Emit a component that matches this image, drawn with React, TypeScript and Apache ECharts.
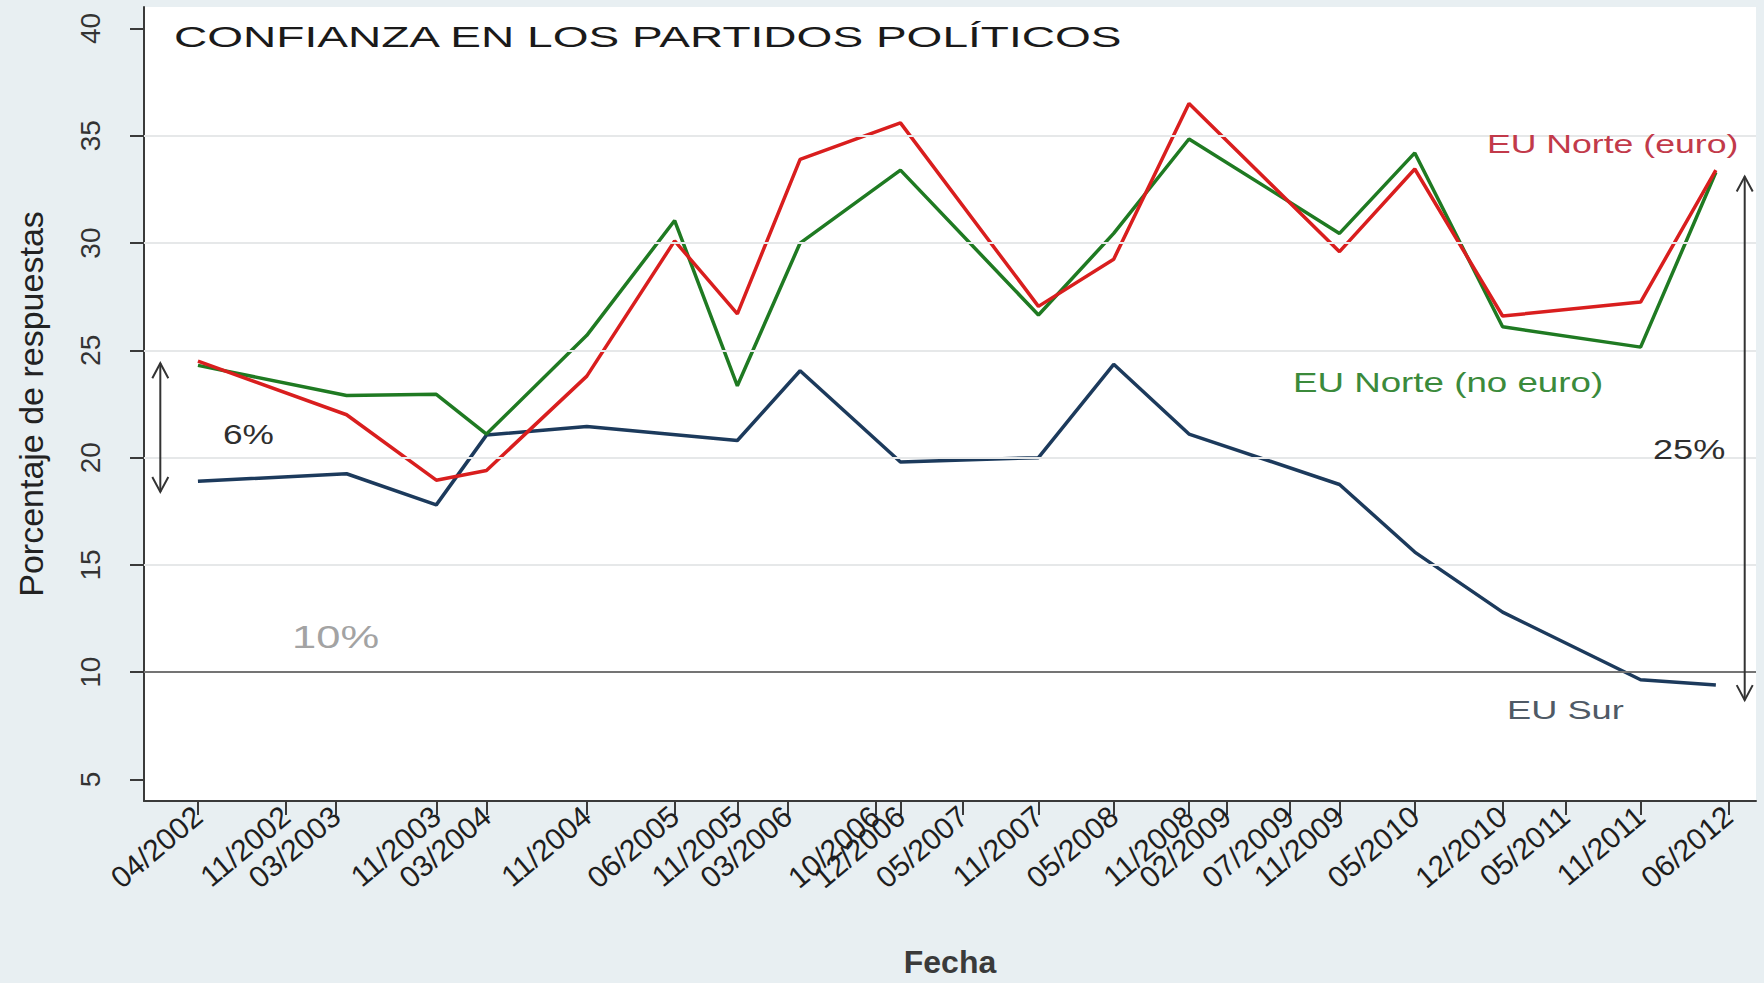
import React, { useEffect, useRef } from 'react';
import * as echarts from 'echarts';

// Survey dates shown on the x axis
const tickLabels = [
  '04/2002', '11/2002', '03/2003', '11/2003', '03/2004', '11/2004', '06/2005',
  '11/2005', '03/2006', '10/2006', '12/2006', '05/2007', '11/2007', '05/2008',
  '11/2008', '02/2009', '07/2009', '11/2009', '05/2010', '12/2010', '05/2011',
  '11/2011', '06/2012',
];

// x positions of the drawn points, in months since 01/2002
const norteMonths = [3, 14.85, 22, 26, 34, 41, 46, 51, 59, 70, 76, 82, 94, 100, 107, 118, 124];
const norteEuro = [24.5, 22.0, 18.95, 19.4, 23.8, 30.1, 26.7, 33.9, 35.6, 27.05, 29.25, 36.5, 29.6, 33.45, 26.6, 27.25, 33.4];
const norteNoEuro = [24.3, 22.9, 22.95, 21.1, 25.7, 31.05, 23.35, 30.0, 33.4, 26.65, 30.45, 34.85, 30.45, 34.2, 26.1, 25.15, 33.3];

const surMonths = [3, 14.85, 22, 26, 34, 46, 51, 59, 70, 76, 82, 94, 100, 107, 118, 124];
const sur = [18.9, 19.25, 17.8, 21.05, 21.45, 20.8, 24.05, 19.8, 20.0, 24.35, 21.1, 18.75, 15.6, 12.8, 9.65, 9.4];

const yTicks = [5, 10, 15, 20, 25, 30, 35, 40];
const gridValues = [15, 20, 25, 30, 35];
const refValue = 10;

// gap arrows: [x month, from value, to value]
const leftGap = [0, 24.4, 18.4];
const rightGap = [126.3, 33.1, 8.7];

const FONT = "'Liberation Sans', Arial, Helvetica, sans-serif";

function monthIndex(label: string): number {
  const [m, y] = label.split('/').map(Number);
  return (y - 2002) * 12 + (m - 1);
}

const tickMonths = tickLabels.map(monthIndex);
const labelByMonth: Record<number, string> = {};
tickLabels.forEach((l) => { labelByMonth[monthIndex(l)] = l; });

const AXIS_COLOR = '#3a3a3a';

export default function App() {
  const ref = useRef<HTMLDivElement>(null);

  useEffect(() => {
    document.body.style.margin = '0';
    if (!ref.current) return;
    const chart = echarts.init(ref.current, undefined, { renderer: 'svg' });

    const option: any = {
      animation: false,
      backgroundColor: '#e8eff2',
      grid: {
        left: 144, top: 7, width: 1612, height: 801,
        show: true, backgroundColor: '#ffffff', borderWidth: 0,
      },
      xAxis: {
        type: 'value', min: -1.3, max: 127.2,
        name: 'Fecha', nameLocation: 'middle', nameGap: 145,
        nameTextStyle: { fontSize: 32, fontWeight: 'bold', color: '#3a3a3a', fontFamily: FONT },
        axisLine: { show: true, onZero: false, lineStyle: { color: AXIS_COLOR, width: 2 } },
        axisTick: { show: true, length: 14, customValues: tickMonths, lineStyle: { color: AXIS_COLOR, width: 2 } },
        axisLabel: {
          customValues: tickMonths, rotate: 40, margin: 11,
          fontSize: 30, color: '#1e1e1e', fontFamily: FONT,
          formatter: (v: number) => labelByMonth[Math.round(v)] ?? '',
        },
        splitLine: { show: false },
      },
      yAxis: {
        type: 'value', min: 4, max: 41,
        name: 'Porcentaje de respuestas', nameLocation: 'middle', nameGap: 96, nameRotate: 90,
        nameTextStyle: { fontSize: 34, color: '#222222', fontFamily: FONT },
        axisLine: { show: true, onZero: false, lineStyle: { color: AXIS_COLOR, width: 2 } },
        axisTick: { show: true, length: 14, customValues: yTicks, lineStyle: { color: AXIS_COLOR, width: 2 } },
        axisLabel: {
          customValues: yTicks, rotate: 90, margin: 40,
          fontSize: 28, color: '#333333', fontFamily: FONT,
        },
        splitLine: { show: false },
      },
      series: [
        {
          type: 'line', data: [], z: 1, silent: true,
          markLine: {
            silent: true, symbol: ['none', 'none'], label: { show: false },
            lineStyle: { color: '#e6e8e9', width: 2, type: 'solid' },
            data: gridValues.map((v) => ({ yAxis: v })),
          },
        },
        {
          type: 'line', data: [], z: 2, silent: true,
          markLine: {
            silent: true, symbol: ['none', 'none'], label: { show: false },
            lineStyle: { color: '#747474', width: 2, type: 'solid' },
            data: [{ yAxis: refValue }],
          },
        },
        {
          name: 'EU Sur', type: 'line', z: 3, showSymbol: false,
          data: sur.map((v, i) => [surMonths[i], v]),
          lineStyle: { color: '#1c3a5c', width: 3.5 },
        },
        {
          name: 'EU Norte (no euro)', type: 'line', z: 3, showSymbol: false,
          data: norteNoEuro.map((v, i) => [norteMonths[i], v]),
          lineStyle: { color: '#1f7a22', width: 3.5 },
        },
        {
          name: 'EU Norte (euro)', type: 'line', z: 3, showSymbol: false,
          data: norteEuro.map((v, i) => [norteMonths[i], v]),
          lineStyle: { color: '#d91e1e', width: 3.5 },
        },
      ],
    };
    chart.setOption(option);

    const px = (x: number, y: number) => chart.convertToPixel({ gridIndex: 0 }, [x, y]) as number[];
    const arrow = (g: number[]) => {
      const a = px(g[0], g[1]);
      const b = px(g[0], g[2]);
      const st = { stroke: '#333333', lineWidth: 2, fill: null };
      return [
        { type: 'line', shape: { x1: a[0], y1: a[1], x2: b[0], y2: b[1] }, style: st, z: 10 },
        { type: 'polyline', shape: { points: [[a[0] - 8, a[1] + 15], [a[0], a[1]], [a[0] + 8, a[1] + 15]] }, style: st, z: 10 },
        { type: 'polyline', shape: { points: [[b[0] - 8, b[1] - 15], [b[0], b[1]], [b[0] + 8, b[1] - 15]] }, style: st, z: 10 },
      ];
    };
    const txt = (text: string, x: number, y: number, size: number, sx: number, color: string) => ({
      type: 'text', x, y, scaleX: sx, z: 10,
      style: {
        text, font: `${size}px ${FONT}`, fill: color,
        textAlign: 'left', textVerticalAlign: 'middle', align: 'left', verticalAlign: 'middle',
      },
    });

    chart.setOption({
      graphic: [
        txt('CONFIANZA EN LOS PARTIDOS POLÍTICOS', 174, 37, 30, 1.535, '#1a1a1a'),
        txt('EU Norte (euro)', 1487, 144, 26, 1.37, '#c23a4a'),
        txt('EU Norte (no euro)', 1293, 383, 27, 1.36, '#3b8a3b'),
        txt('25%', 1653, 449, 28, 1.29, '#2f2f2f'),
        txt('6%', 223, 434, 28, 1.26, '#2f2f2f'),
        txt('10%', 292, 637, 32, 1.36, '#a3a3a3'),
        txt('EU Sur', 1507, 711, 25, 1.45, '#4f5a66'),
        ...arrow(leftGap),
        ...arrow(rightGap),
      ],
    });

    return () => chart.dispose();
  }, []);

  return <div ref={ref} style={{ width: 1764, height: 983 }} />;
}
